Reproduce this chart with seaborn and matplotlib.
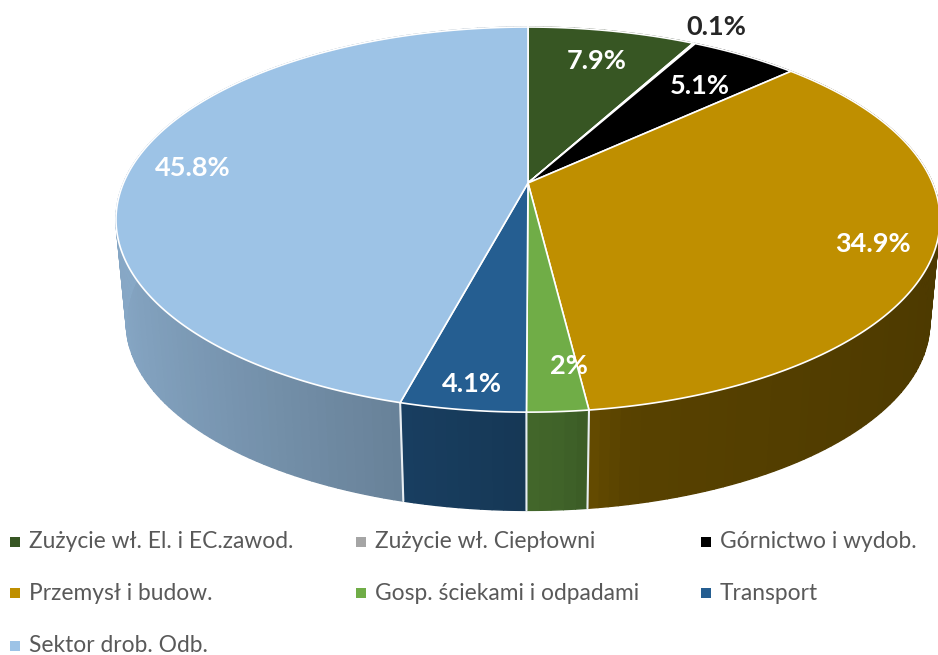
import numpy as np
import matplotlib
matplotlib.use('Agg')
import matplotlib.pyplot as plt
import seaborn as sns

categories = ['Zużycie wł. El. i EC.zawod.', 'Zużycie wł. Ciepłowni', 'Górnictwo i wydob.',
              'Przemysł i budow.', 'Gosp. ściekami i odpadami', 'Transport', 'Sektor drob. Odb.']
values = [7.9, 0.1, 5.1, 34.9, 2.0, 4.1, 45.8]
value_labels = ['7.9%', '0.1%', '5.1%', '34.9%', '2%', '4.1%', '45.8%']
colors = ['#375623', '#a5a5a5', '#000000', '#bf8f00', '#70ad47', '#255e91', '#9dc3e6']

# layout of the tilted disc, in pixels of the output image
APEX = (528, 183)
BOTTOM_Y = 287
A, B, K = 404.5, 185.6, 0.19
SHRINK = 0.975
label_pos = [(597, 61), (716, 27), (700, 86), (873, 244), (569, 366), (472, 384), (193, 168)]
label_color = ['white', '#262626', 'white', 'white', 'white', 'white', 'white']
legend_x = [15, 361, 706]
legend_y = [542, 593, 646]

sns.set_theme(style='white')
plt.rcParams['font.family'] = ['Lato', 'DejaVu Sans']


def top_rim(t):
    # clockwise from 12 o'clock, perspective on the far side
    c, s = np.sin(t), np.cos(t)
    w = 1 + K * s
    return APEX[0] + A * c / w, APEX[1] - B * s / w


def bottom_rim(t):
    c, s = np.sin(t), np.cos(t)
    w = 1 + K * s
    return APEX[0] + SHRINK * A * c / w, BOTTOM_Y - SHRINK * B * s / w


def shade(t):
    return np.interp(np.sin(t), [-1, -0.25, 0.07, 0.2, 1], [0.86, 0.66, 0.57, 0.46, 0.40])


fig = plt.figure(figsize=(9.38, 6.55), dpi=100, facecolor='white')
ax = fig.add_axes([0, 0, 1, 1])
ax.set_xlim(0, 938)
ax.set_ylim(655, 0)
ax.axis('off')

edges = np.concatenate([[0], np.cumsum(values)]) / sum(values) * 2 * np.pi

# side wall: thin strips so the shading can change along the rim
for i, col in enumerate(colors):
    ts = np.linspace(edges[i], edges[i + 1], max(2, int(values[i] * 3)))
    rgb = np.array(matplotlib.colors.to_rgb(col))
    for t0, t1 in zip(ts[:-1], ts[1:]):
        tt = np.linspace(t0, t1, 4)
        x0, y0 = top_rim(tt)
        x1, y1 = bottom_rim(tt[::-1])
        fc = rgb * shade((t0 + t1) / 2)
        ax.fill(np.r_[x0, x1], np.r_[y0, y1], color=fc, lw=1.0, zorder=1)

for t in edges[:-1]:
    x0, y0 = top_rim(t)
    x1, y1 = bottom_rim(t)
    ax.plot([x0, x1], [y0, y1], color='#e8eef2', lw=1.5, zorder=2)

# top face
for i, col in enumerate(colors):
    tt = np.linspace(edges[i], edges[i + 1], max(3, int(values[i] * 8)))
    x, y = top_rim(tt)
    ax.fill(np.r_[APEX[0], x], np.r_[APEX[1], y], facecolor=col, edgecolor='white',
            lw=1.2, joinstyle='round', zorder=3)

for txt, (x, y), c in zip(value_labels, label_pos, label_color):
    ax.text(x, y, txt, color=c, fontsize=19.5, fontweight='bold', ha='center', va='center', zorder=5)

# legend, three columns filled row by row
for i, (name, col) in enumerate(zip(categories, colors)):
    lx = legend_x[i % 3]
    ly = legend_y[i // 3]
    ax.scatter([lx], [ly], marker='s', s=62, color=col, linewidths=0, zorder=5)
    ax.text(lx + 14, ly, name, color='#595959', fontsize=16.4, ha='left', va='center', zorder=5)

fig.savefig('out.png', dpi=100)
